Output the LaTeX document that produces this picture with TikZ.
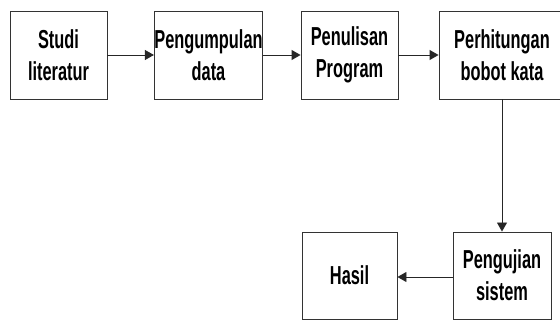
\documentclass[tikz,border=0pt]{standalone}
\usepackage{fontspec}
\setmainfont[FakeStretch=0.63]{Liberation Sans}
\usetikzlibrary{arrows.meta}
\begin{document}
\begin{tikzpicture}[x=1pt,y=-1pt,
  box/.style={draw=black!80, line width=0.9pt, inner sep=0pt, align=center,
    font=\fontsize{26}{32}\selectfont\bfseries},
  conn/.style={draw=black!85, line width=0.9pt, -{Triangle[length=9pt,width=10pt]}}]
\useasboundingbox (0,0) rectangle (560,323);
\node[box, minimum width=97pt, minimum height=88pt] (a) at (58.5,55) {Studi\\literatur};
\node[box, minimum width=107pt, minimum height=88pt] (b) at (208.5,55) {Pengumpulan\\data};
\node[box, minimum width=97pt, minimum height=88pt] (c) at (349.5,55) {Penulisan\\Program};
\node[box, minimum width=126pt, minimum height=88pt] (d) at (502,55) {Perhitungan\\bobot kata};
\node[box, minimum width=98pt, minimum height=87pt] (e) at (502,275.5) {Pengujian\\sistem};
\node[box, minimum width=95pt, minimum height=87pt] (f) at (349.5,275.5) {Hasil};
\draw[conn] (a) -- (b);
\draw[conn] (b) -- (c);
\draw[conn] (c) -- (d);
\draw[conn] (d) -- (e);
\draw[conn] (e.west |- 0,277) -- (f.east |- 0,277);
\end{tikzpicture}
\end{document}
